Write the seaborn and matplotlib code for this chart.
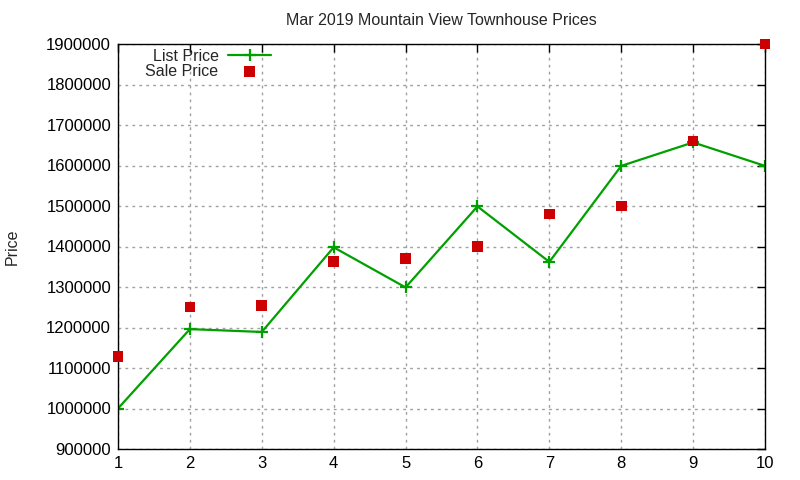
import matplotlib
matplotlib.use("Agg")
import matplotlib.pyplot as plt
import seaborn as sns
import pandas as pd
from matplotlib.ticker import ScalarFormatter

# values
homes = [1, 2, 3, 4, 5, 6, 7, 8, 9, 10]
list_price = [1000000, 1196000, 1189000, 1398000, 1299000, 1499000, 1362000, 1599000, 1657000, 1599000]
sale_price = [1128000, 1251000, 1255000, 1363000, 1370000, 1400000, 1480000, 1500000, 1661000, 1900000]

df = pd.DataFrame({"home": homes, "list": list_price, "sale": sale_price})

sns.set_style("white")
plt.rcParams["font.family"] = ["Liberation Sans", "DejaVu Sans"]
plt.rcParams["font.size"] = 11.5

fig = plt.figure(figsize=(8, 4.8), dpi=100)
ax = fig.add_axes([118 / 800, 1 - 449 / 480, (765 - 118) / 800, (449 - 44) / 480])

sns.lineplot(data=df, x="home", y="list", ax=ax, color="#00a000", linewidth=1.6,
             marker="+", markersize=9, markeredgewidth=1.6, markeredgecolor="#00a000",
             label="List Price")
sns.scatterplot(data=df, x="home", y="sale", ax=ax, color="#cc0000", marker="s",
                s=58, edgecolor="none", label="Sale Price", clip_on=False, zorder=5)

ax.set_xlim(1, 10)
ax.set_ylim(900000, 1900000)
ax.set_xticks(homes)
ax.set_yticks(range(900000, 1900001, 100000))
fmt = ScalarFormatter(useOffset=False)
fmt.set_scientific(False)
ax.yaxis.set_major_formatter(fmt)

ax.grid(True, color="#a0a0a0", linestyle=(0, (2, 3)), linewidth=1)
ax.tick_params(direction="in", top=True, right=True, length=6, width=1,
               labelsize=12, colors="black", pad=5)
for sp in ax.spines.values():
    sp.set_color("black")
    sp.set_linewidth(1)

ax.set_xlabel("")
ax.set_ylabel("Price", fontsize=11.5)
ax.yaxis.set_label_coords(-0.152, 0.5)
ax.set_title("Mar 2019 Mountain View Townhouse Prices", fontsize=11.5, pad=14)

leg = ax.legend(loc="upper left", markerfirst=False, frameon=False, fontsize=11.5,
                handlelength=2.7, handletextpad=0.6, borderaxespad=0.1,
                labelspacing=0.0, bbox_to_anchor=(0.03, 1.008))
for t in leg.get_texts():
    t.set_ha("right")

fig.savefig("out.png", dpi=100)
